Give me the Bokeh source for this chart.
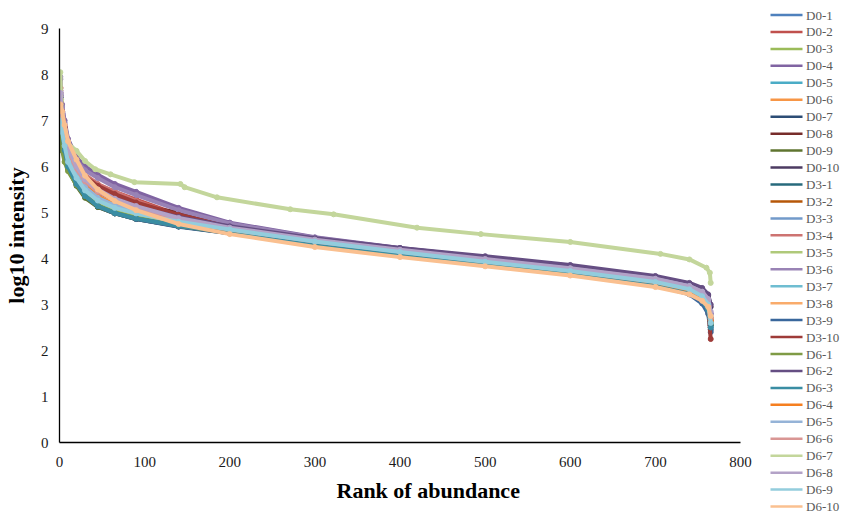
from bokeh.plotting import figure
from bokeh.models import Range1d, FixedTicker, Title
from bokeh.embed import file_html
from bokeh.resources import INLINE
from bokeh.core.properties import value

# ---------------- data ----------------
x_ticks = [0, 100, 200, 300, 400, 500, 600, 700, 800]
y_ticks = [0, 1, 2, 3, 4, 5, 6, 7, 8, 9]

# ranks at which the curves were read
ranks = [1, 3, 6, 10, 20, 30, 45, 65, 90, 140, 200, 300, 400, 500, 600, 700, 740, 755, 762, 765]
ranks_d6_7 = [1, 2, 3, 5, 10, 20, 30, 42, 60, 88, 142, 147, 185, 271, 322, 420, 495, 600, 706, 740, 760, 764, 765]

d0_1 = [7.45, 6.9, 6.5, 6.15, 5.75, 5.45, 5.2, 5.02, 4.9, 4.72, 4.58, 4.34, 4.12, 3.92, 3.72, 3.48, 3.3, 3.12, 2.9, 2.5]
d0_2 = [7.72, 7.2, 6.85, 6.45, 6.05, 5.78, 5.6, 5.45, 5.28, 4.95, 4.68, 4.4, 4.18, 3.97, 3.77, 3.53, 3.36, 3.22, 3.05, 2.6]
d0_3 = [7.35, 6.95, 6.55, 6.1, 5.72, 5.42, 5.18, 5.0, 4.88, 4.7, 4.56, 4.32, 4.1, 3.9, 3.7, 3.46, 3.3, 3.15, 2.95, 2.7]
d0_4 = [7.9, 7.35, 7.0, 6.6, 6.2, 6.0, 5.82, 5.62, 5.45, 5.1, 4.78, 4.46, 4.23, 4.02, 3.82, 3.58, 3.42, 3.3, 3.12, 2.8]
d0_5 = [7.5, 7.05, 6.7, 6.3, 5.9, 5.62, 5.38, 5.2, 5.06, 4.85, 4.66, 4.4, 4.17, 3.96, 3.76, 3.52, 3.36, 3.22, 3.05, 2.7]
d0_6 = [7.3, 7.0, 6.7, 6.3, 5.85, 5.55, 5.3, 5.12, 4.98, 4.78, 4.6, 4.34, 4.12, 3.91, 3.71, 3.47, 3.3, 3.15, 2.98, 2.65]
d0_7 = [7.4, 6.8, 6.35, 6.0, 5.6, 5.35, 5.12, 4.98, 4.86, 4.7, 4.56, 4.32, 4.1, 3.9, 3.7, 3.44, 3.25, 3.05, 2.85, 2.45]
d0_8 = [7.6, 7.15, 6.8, 6.4, 6.0, 5.72, 5.5, 5.3, 5.15, 5.0, 4.7, 4.42, 4.19, 3.98, 3.78, 3.54, 3.38, 3.25, 3.08, 2.7]
d0_9 = [7.3, 6.75, 6.3, 5.95, 5.58, 5.32, 5.12, 4.98, 4.86, 4.7, 4.55, 4.3, 4.08, 3.88, 3.68, 3.44, 3.27, 3.1, 2.9, 2.55]
d0_10 = [7.55, 7.1, 6.75, 6.35, 5.95, 5.7, 5.5, 5.32, 5.15, 4.92, 4.7, 4.44, 4.22, 4.03, 3.84, 3.6, 3.45, 3.33, 3.2, 2.95]
d3_1 = [7.45, 6.85, 6.4, 6.05, 5.65, 5.38, 5.15, 5.0, 4.88, 4.72, 4.57, 4.33, 4.11, 3.91, 3.71, 3.46, 3.28, 3.1, 2.9, 2.55]
d3_2 = [7.4, 7.0, 6.65, 6.25, 5.85, 5.58, 5.36, 5.18, 5.04, 4.84, 4.66, 4.4, 4.17, 3.96, 3.76, 3.52, 3.36, 3.2, 3.02, 2.65]
d3_3 = [7.25, 6.9, 6.55, 6.2, 5.8, 5.5, 5.27, 5.1, 4.97, 4.78, 4.61, 4.36, 4.14, 3.94, 3.74, 3.5, 3.34, 3.2, 3.0, 2.6]
d3_4 = [7.65, 7.2, 6.9, 6.5, 6.08, 5.82, 5.62, 5.45, 5.25, 4.92, 4.66, 4.38, 4.16, 3.95, 3.75, 3.51, 3.35, 3.2, 3.02, 2.65]
d3_5 = [7.2, 6.85, 6.5, 6.15, 5.78, 5.48, 5.24, 5.06, 4.94, 4.75, 4.58, 4.34, 4.12, 3.92, 3.72, 3.48, 3.32, 3.18, 3.0, 2.7]
d3_6 = [7.95, 7.3, 6.95, 6.55, 6.12, 5.92, 5.75, 5.55, 5.38, 5.05, 4.76, 4.45, 4.22, 4.01, 3.81, 3.57, 3.4, 3.28, 3.1, 2.8]
d3_7 = [7.1, 6.8, 6.5, 6.15, 5.8, 5.52, 5.3, 5.14, 5.02, 4.83, 4.65, 4.39, 4.16, 3.95, 3.75, 3.5, 3.33, 3.18, 2.98, 2.6]
d3_8 = [7.3, 7.1, 6.8, 6.45, 6.05, 5.7, 5.42, 5.2, 5.02, 4.76, 4.56, 4.28, 4.06, 3.86, 3.66, 3.42, 3.25, 3.1, 2.95, 2.7]
d3_9 = [7.5, 6.85, 6.4, 6.0, 5.62, 5.36, 5.14, 4.98, 4.86, 4.69, 4.55, 4.31, 4.09, 3.89, 3.69, 3.42, 3.22, 3.02, 2.8, 2.4]
d3_10 = [7.7, 7.2, 6.85, 6.45, 6.05, 5.78, 5.58, 5.4, 5.22, 4.95, 4.68, 4.4, 4.17, 3.96, 3.76, 3.52, 3.35, 3.2, 2.95, 2.25]
d6_1 = [6.8, 6.35, 6.1, 5.9, 5.6, 5.36, 5.15, 5.0, 4.88, 4.71, 4.56, 4.31, 4.09, 3.89, 3.69, 3.45, 3.28, 3.12, 2.92, 2.6]
d6_2 = [7.5, 7.05, 6.7, 6.3, 5.92, 5.66, 5.45, 5.28, 5.12, 4.9, 4.7, 4.44, 4.23, 4.05, 3.86, 3.62, 3.47, 3.36, 3.22, 3.0]
d6_3 = [7.45, 6.8, 6.35, 6.0, 5.62, 5.36, 5.14, 4.99, 4.87, 4.71, 4.57, 4.33, 4.11, 3.91, 3.71, 3.45, 3.26, 3.08, 2.88, 2.5]
d6_4 = [7.35, 7.05, 6.75, 6.4, 5.95, 5.62, 5.35, 5.15, 5.0, 4.8, 4.63, 4.38, 4.15, 3.94, 3.74, 3.49, 3.32, 3.15, 2.98, 2.65]
d6_5 = [7.2, 6.9, 6.6, 6.25, 5.85, 5.55, 5.32, 5.15, 5.02, 4.82, 4.64, 4.38, 4.16, 3.97, 3.78, 3.55, 3.4, 3.27, 3.1, 2.75]
d6_6 = [7.4, 7.05, 6.75, 6.35, 5.95, 5.68, 5.45, 5.28, 5.1, 4.85, 4.64, 4.37, 4.15, 3.94, 3.74, 3.5, 3.34, 3.2, 3.02, 2.7]
d6_7 = [8.05, 7.45, 7.15, 6.85, 6.5, 6.34, 6.12, 5.94, 5.83, 5.66, 5.62, 5.55, 5.33, 5.07, 4.96, 4.67, 4.53, 4.36, 4.1, 3.98, 3.8, 3.69, 3.47]
d6_8 = [7.6, 7.15, 6.8, 6.4, 6.0, 5.72, 5.5, 5.3, 5.14, 4.88, 4.67, 4.41, 4.19, 3.99, 3.79, 3.56, 3.4, 3.28, 3.12, 2.85]
d6_9 = [7.0, 6.75, 6.45, 6.1, 5.75, 5.48, 5.26, 5.1, 4.98, 4.8, 4.63, 4.37, 4.14, 3.93, 3.73, 3.49, 3.33, 3.18, 3.0, 2.6]
d6_10 = [7.35, 7.2, 6.9, 6.55, 6.15, 5.8, 5.5, 5.25, 5.05, 4.75, 4.53, 4.25, 4.03, 3.83, 3.63, 3.38, 3.22, 3.08, 2.95, 2.75]

names = ["D0-1", "D0-2", "D0-3", "D0-4", "D0-5", "D0-6", "D0-7", "D0-8", "D0-9", "D0-10",
         "D3-1", "D3-2", "D3-3", "D3-4", "D3-5", "D3-6", "D3-7", "D3-8", "D3-9", "D3-10",
         "D6-1", "D6-2", "D6-3", "D6-4", "D6-5", "D6-6", "D6-7", "D6-8", "D6-9", "D6-10"]
values = [d0_1, d0_2, d0_3, d0_4, d0_5, d0_6, d0_7, d0_8, d0_9, d0_10,
          d3_1, d3_2, d3_3, d3_4, d3_5, d3_6, d3_7, d3_8, d3_9, d3_10,
          d6_1, d6_2, d6_3, d6_4, d6_5, d6_6, d6_7, d6_8, d6_9, d6_10]
colors = ["#4F81BD", "#C0504D", "#9BBB59", "#8064A2", "#4BACC6", "#F79646", "#2C4D75", "#772C2A", "#5F7530", "#4D3B62",
          "#276A7C", "#B65708", "#729ACA", "#CD7371", "#AFC97A", "#9983B5", "#6FBDD1", "#F9AB6B", "#3A679C", "#9E3B38",
          "#7F9B45", "#654E83", "#3A8DA3", "#F57F20", "#95B3D7", "#D99694", "#C3D69B", "#B3A2C7", "#93CDDD", "#FAC090"]

SERIF = "Liberation Serif"

# ---------------- layout geometry (pixels) ----------------
W, H = 842, 514
F_LEFT, F_RIGHT, F_TOP, F_BOTTOM = 59, 740, 28, 442
X0, X1, Y0, Y1 = 0, 800, 0, 9

p = figure(width=W, height=H, x_range=Range1d(X0, X1), y_range=Range1d(Y0, Y1),
           output_backend="svg", toolbar_location=None,
           min_border_left=F_LEFT, min_border_right=W - F_RIGHT,
           min_border_top=F_TOP, min_border_bottom=H - F_BOTTOM)
p.outline_line_color = None
p.grid.visible = False
p.background_fill_color = "white"

p.xaxis.ticker = FixedTicker(ticks=x_ticks)
p.yaxis.ticker = FixedTicker(ticks=y_ticks)
for ax in (p.xaxis, p.yaxis):
    ax.major_tick_line_color = None
    ax.minor_tick_line_color = None
    ax.major_tick_out = 0
    ax.major_tick_in = 0
    ax.minor_tick_out = 0
    ax.minor_tick_in = 0
    ax.axis_line_color = "black"
    ax.axis_line_width = 1.3
    ax.major_label_text_font = SERIF
    ax.major_label_text_font_size = "15px"
    ax.major_label_text_color = "#1a1a1a"
p.xaxis.major_label_standoff = 14
p.yaxis.major_label_standoff = 11

p.yaxis.axis_label = "log10 intensity"
p.yaxis.axis_label_text_font = SERIF
p.yaxis.axis_label_text_font_style = "bold"
p.yaxis.axis_label_text_font_size = "22px"
p.yaxis.axis_label_text_color = "black"
p.yaxis.axis_label_standoff = 9

p.add_layout(Title(text="Rank of abundance", align="left", offset=277,
                   text_font=SERIF, text_font_style="bold", text_font_size="22px",
                   text_color="black", standoff=12), "below")

for name, vals, col in zip(names, values, colors):
    xs = ranks_d6_7 if name == "D6-7" else ranks
    p.line(xs, vals, line_color=col, line_width=4, line_join="round")
    p.scatter(xs, vals, size=5, fill_color=col, line_color=col)

# ---------------- legend (line + marker swatches, right of the plot area) ----------------
def dx(px):  # canvas pixel -> data x
    return X0 + (X1 - X0) * (px - F_LEFT) / (F_RIGHT - F_LEFT)

def dy(py):  # canvas pixel -> data y
    return Y0 + (Y1 - Y0) * (F_BOTTOM - py) / (F_BOTTOM - F_TOP)

n = len(names)
leg_py = [14.5 + i * 16.95 for i in range(n)]
leg_y = [dy(v) for v in leg_py]
p.segment(x0=[dx(770)] * n, x1=[dx(802)] * n, y0=leg_y, y1=leg_y,
          line_color=colors, line_width=2.5, level="overlay")
p.scatter(x=[dx(786)] * n, y=leg_y, size=6, fill_color=colors, line_color=colors, level="overlay")
p.text(x=[dx(805.5)] * n, y=leg_y, text=names, text_baseline="middle", text_align="left",
       text_font=value(SERIF), text_font_size="13px", text_color="#595959", level="overlay")

open("out.html", "w").write(file_html(p, INLINE))
